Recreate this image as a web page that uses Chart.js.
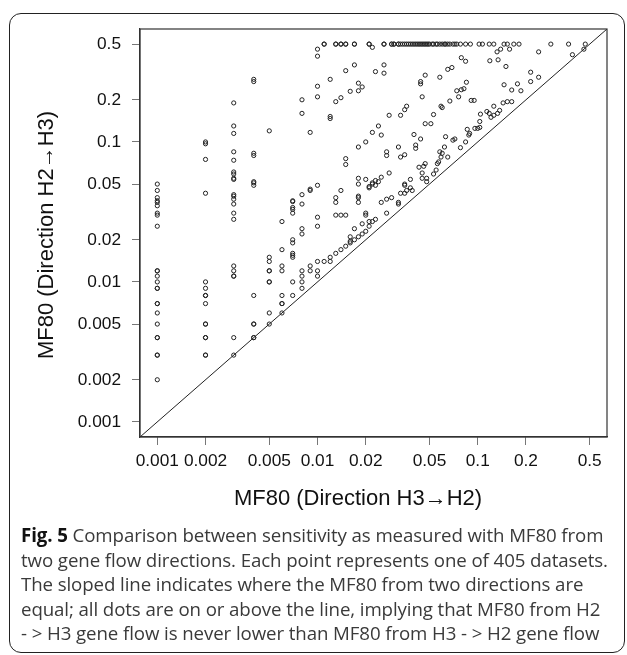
<!DOCTYPE html>
<html>
<head>
<meta charset="utf-8">
<script src="https://cdn.jsdelivr.net/npm/chart.js@4.4.1/dist/chart.umd.min.js"></script>
<style>
  html, body { margin: 0; padding: 0; background: #fff; }
  body { width: 627px; height: 655px; position: relative; overflow: hidden; }
  #frame {
    position: absolute; left: 9px; top: 13px; width: 614px; height: 638px;
    border: 1.5px solid #222; border-radius: 12px;
  }
  #chart { position: absolute; left: 0; top: 0; }
  #caption {
    position: absolute; left: 21px; top: 523px;
    font-family: "Open Sans", sans-serif; font-size: 18.7px; line-height: 24.5px;
    color: #3a3a3a; white-space: nowrap; letter-spacing: -0.1px;
  }
  #caption b { color: #111; }
</style>
</head>
<body>
<div id="frame"></div>
<canvas id="chart" width="627" height="525"></canvas>
<div id="caption">
  <b>Fig. 5</b> Comparison between sensitivity as measured with MF80 from<br>
  two gene flow directions. Each point represents one of 405 datasets.<br>
  The sloped line indicates where the MF80 from two directions are<br>
  equal; all dots are on or above the line, implying that MF80 from H2<br>
  - &gt; H3 gene flow is never lower than MF80 from H3 - &gt; H2 gene flow
</div>

<script>
    // MF80, direction H3->H2 (x) and H2->H3 (y)
    var dirH3toH2 = [
        0.001, 0.001, 0.001, 0.001, 0.001, 0.001, 0.001, 0.001, 0.001, 0.001, 0.001, 0.001,
        0.001, 0.001, 0.001, 0.001, 0.001, 0.001, 0.001, 0.001, 0.001, 0.001, 0.001, 0.001,
        0.002, 0.002, 0.002, 0.002, 0.002, 0.002, 0.002, 0.002, 0.002, 0.002, 0.002, 0.002,
        0.002, 0.002, 0.002,
        0.003, 0.003, 0.003, 0.003, 0.003, 0.003, 0.003, 0.003, 0.003, 0.003, 0.003, 0.003,
        0.003, 0.003, 0.003, 0.003, 0.003, 0.003, 0.003, 0.003, 0.003,
        0.004, 0.004, 0.004, 0.004, 0.004, 0.004, 0.004, 0.004, 0.004, 0.004, 0.004, 0.004,
        0.005, 0.005, 0.005, 0.005, 0.005, 0.005, 0.005, 0.005, 0.005,
        0.006, 0.006, 0.006, 0.006, 0.006, 0.006, 0.006, 0.006,
        0.007, 0.007, 0.007, 0.007, 0.007, 0.007, 0.007, 0.007, 0.007, 0.007, 0.007, 0.007,
        0.008, 0.008, 0.008, 0.008, 0.008, 0.008, 0.008, 0.008, 0.008, 0.008,
        0.009, 0.009, 0.009, 0.009, 0.009,
        0.01, 0.01, 0.01, 0.01, 0.01, 0.01, 0.01, 0.01, 0.01, 0.01,
        0.011, 0.011, 0.012, 0.012, 0.012, 0.012, 0.012,
        0.013, 0.013, 0.013, 0.013, 0.013, 0.013,
        0.014, 0.014, 0.014, 0.014, 0.014,
        0.015, 0.015, 0.015, 0.015, 0.015, 0.015,
        0.016, 0.016, 0.016, 0.016, 0.017, 0.017, 0.017, 0.017,
        0.018, 0.018, 0.018, 0.018, 0.018, 0.018, 0.018, 0.018, 0.018, 0.019, 0.019, 0.019,
        0.02, 0.02, 0.02, 0.02, 0.02, 0.021, 0.021, 0.021, 0.021, 0.021,
        0.022, 0.022, 0.022, 0.022, 0.022, 0.023, 0.023, 0.023, 0.023,
        0.024, 0.024, 0.025, 0.025, 0.025, 0.026, 0.026, 0.026,
        0.027, 0.027, 0.027, 0.027, 0.028, 0.028, 0.029, 0.029, 0.03,
        0.032, 0.032, 0.032, 0.032, 0.033, 0.033, 0.033,
        0.035, 0.035, 0.035, 0.035, 0.035, 0.036, 0.036, 0.038, 0.038, 0.039,
        0.04, 0.041, 0.041, 0.043, 0.044, 0.044, 0.044, 0.045, 0.045, 0.045, 0.046,
        0.047, 0.047, 0.047, 0.048, 0.048, 0.051, 0.053, 0.053, 0.055, 0.056, 0.057,
        0.058, 0.058, 0.059, 0.059, 0.06, 0.06, 0.062, 0.063, 0.065, 0.065, 0.067, 0.069,
        0.07, 0.072, 0.074, 0.076, 0.078, 0.079, 0.079, 0.082, 0.084, 0.084, 0.085,
        0.086, 0.088, 0.089, 0.091, 0.095, 0.096, 0.1, 0.103, 0.103, 0.104, 0.114,
        0.118, 0.119, 0.121, 0.126, 0.126, 0.132, 0.133, 0.134, 0.137, 0.139, 0.144,
        0.146, 0.15, 0.153, 0.158, 0.163, 0.163, 0.177, 0.186, 0.214, 0.214, 0.24, 0.24,
        0.39, 0.46,
        // top row
        0.011, 0.013, 0.014, 0.015, 0.017, 0.021, 0.026, 0.029, 0.03, 0.032, 0.033, 0.034,
        0.035, 0.036, 0.037, 0.038, 0.039, 0.04, 0.041, 0.042, 0.043, 0.044, 0.045, 0.046,
        0.047, 0.048, 0.049, 0.05, 0.052, 0.053, 0.055, 0.056, 0.058, 0.06, 0.062, 0.063,
        0.065, 0.067, 0.07, 0.072, 0.074, 0.078, 0.084, 0.09, 0.102, 0.107, 0.118, 0.126,
        0.146, 0.153, 0.168, 0.181, 0.286, 0.369, 0.469
    ];
    var dirH2toH3 = [
        0.05, 0.045, 0.04, 0.038, 0.037, 0.035, 0.031, 0.03, 0.025, 0.012, 0.012, 0.011,
        0.01, 0.009, 0.009, 0.007, 0.007, 0.006, 0.005, 0.004, 0.004, 0.003, 0.003, 0.002,
        0.1, 0.097, 0.075, 0.043, 0.01, 0.009, 0.008, 0.008, 0.007, 0.005, 0.005, 0.004,
        0.004, 0.003, 0.003,
        0.19, 0.13, 0.115, 0.085, 0.074, 0.061, 0.059, 0.055, 0.054, 0.042, 0.041, 0.039,
        0.036, 0.031, 0.028, 0.013, 0.012, 0.011, 0.011, 0.004, 0.003,
        0.28, 0.27, 0.083, 0.08, 0.052, 0.051, 0.049, 0.008, 0.005, 0.005, 0.004, 0.004,
        0.12, 0.015, 0.014, 0.012, 0.012, 0.01, 0.01, 0.006, 0.005,
        0.027, 0.017, 0.013, 0.012, 0.008, 0.007, 0.007, 0.006,
        0.038, 0.0375, 0.034, 0.033, 0.031, 0.02, 0.019, 0.016, 0.0155, 0.015, 0.01, 0.008,
        0.2, 0.16, 0.042, 0.036, 0.024, 0.022, 0.012, 0.011, 0.01, 0.009,
        0.117, 0.046, 0.045, 0.013, 0.012,
        0.46, 0.41, 0.25, 0.21, 0.049, 0.029, 0.025, 0.014, 0.012, 0.011,
        0.5, 0.014, 0.28, 0.152, 0.147, 0.015, 0.014,
        0.5, 0.194, 0.04, 0.037, 0.03, 0.016,
        0.5, 0.207, 0.045, 0.03, 0.017,
        0.5, 0.323, 0.076, 0.069, 0.03, 0.018,
        0.23, 0.021, 0.0195, 0.019, 0.5, 0.355, 0.02, 0.024,
        0.263, 0.232, 0.092, 0.055, 0.05, 0.041, 0.04, 0.037, 0.021, 0.247, 0.022, 0.026,
        0.1, 0.054, 0.031, 0.03, 0.023, 0.5, 0.048, 0.047, 0.025, 0.027,
        0.474, 0.117, 0.051, 0.05, 0.027, 0.318, 0.053, 0.049, 0.028,
        0.13, 0.052, 0.112, 0.056, 0.037, 0.5, 0.355, 0.31,
        0.085, 0.08, 0.039, 0.031, 0.155, 0.06, 0.5, 0.04, 0.5,
        0.5, 0.092, 0.037, 0.036, 0.155, 0.078, 0.043,
        0.081, 0.043, 0.05, 0.049, 0.17, 0.18, 0.045, 0.047, 0.054, 0.045,
        0.113, 0.095, 0.09, 0.066, 0.27, 0.26, 0.105, 0.21, 0.06, 0.055, 0.067,
        0.3, 0.135, 0.07, 0.055, 0.052, 0.135, 0.157, 0.059, 0.063, 0.07, 0.072,
        0.29, 0.085, 0.18, 0.078, 0.176, 0.083, 0.092, 0.109, 0.33, 0.078, 0.196, 0.34,
        0.103, 0.105, 0.232, 0.21, 0.091, 0.4, 0.236, 0.24, 0.377, 0.1, 0.267,
        0.123, 0.112, 0.115, 0.198, 0.198, 0.125, 0.125, 0.127, 0.14, 0.158, 0.165,
        0.16, 0.38, 0.15, 0.155, 0.18, 0.44, 0.16, 0.386, 0.168, 0.46, 0.19,
        0.256, 0.346, 0.194, 0.46, 0.235, 0.194, 0.26, 0.232, 0.315, 0.27, 0.44, 0.29,
        0.42, 0.46,
        0.5, 0.5, 0.5, 0.5, 0.5, 0.5, 0.5, 0.5, 0.5, 0.5, 0.5, 0.5,
        0.5, 0.5, 0.5, 0.5, 0.5, 0.5, 0.5, 0.5, 0.5, 0.5, 0.5, 0.5,
        0.5, 0.5, 0.5, 0.5, 0.5, 0.5, 0.5, 0.5, 0.5, 0.5, 0.5, 0.5,
        0.5, 0.5, 0.5, 0.5, 0.5, 0.5, 0.5, 0.5, 0.5, 0.5, 0.5, 0.5,
        0.5, 0.5, 0.5, 0.5, 0.5, 0.5, 0.5
    ];
    var tickValues = [0.001, 0.002, 0.005, 0.01, 0.02, 0.05, 0.1, 0.2, 0.5];
    // R-style 4% extension of the 0.001..0.5 range on a log scale
    var axisMin = 0.00078;
    var axisMax = 0.641;
    var xTitle = 'MF80 (Direction H3\u2192H2)';
    var yTitle = 'MF80 (Direction H2\u2192H3)';

    var points = dirH3toH2.map(function (x, i) {
        return {x: x, y: dirH2toH3[i]};
    });

    var frameBox = {
        id: 'frameBox',
        afterDraw: function (chart) {
            var a = chart.chartArea, ctx = chart.ctx;
            ctx.save();
            ctx.strokeStyle = '#333';
            ctx.lineWidth = 1.2;
            ctx.strokeRect(a.left, a.top, a.right - a.left, a.bottom - a.top);
            ctx.fillStyle = '#111';
            ctx.font = '22px "Liberation Sans", Arial, sans-serif';
            ctx.textAlign = 'center';
            ctx.textBaseline = 'middle';
            ctx.fillText(xTitle, 358, 499);
            ctx.translate(47, 235);
            ctx.rotate(-Math.PI / 2);
            ctx.fillText(yTitle, 0, 0);
            ctx.restore();
        }
    };

    function logAxis(isX) {
        return {
            type: 'logarithmic',
            min: axisMin,
            max: axisMax,
            afterBuildTicks: function (scale) {
                scale.ticks = tickValues.map(function (v) { return {value: v}; });
            },
            afterFit: function (scale) {
                if (isX) scale.height = 88; else scale.width = 140;
            },
            ticks: {
                autoSkip: false,
                maxRotation: 0,
                padding: isX ? 6 : 11,
                color: '#111',
                font: {family: '"Liberation Sans", Arial, sans-serif', size: 17.3},
                callback: function (v) { return String(v); }
            },
            grid: {drawOnChartArea: false, drawTicks: true, tickLength: 8, color: '#777', lineWidth: 1},
            border: {display: true, color: '#333', width: 1.2}
        };
    }

    var ctx = document.getElementById('chart').getContext('2d');
    var config = {
        type: 'scatter',
        data: {
            datasets: [{
                label: 'datasets',
                data: points,
                pointStyle: 'circle',
                pointRadius: 2.1,
                borderWidth: 1,
                borderColor: '#222',
                backgroundColor: 'rgba(0,0,0,0)'
            }, {
                type: 'line',
                label: 'equal',
                data: [{x: axisMin, y: axisMin}, {x: axisMax, y: axisMax}],
                borderColor: '#222',
                borderWidth: 1,
                pointRadius: 0,
                fill: false
            }]
        },
        options: {
            responsive: false,
            animation: false,
            layout: {padding: {left: 0, top: 29, right: 20, bottom: 0}},
            plugins: {legend: {display: false}, tooltip: {enabled: false}},
            scales: {x: logAxis(true), y: logAxis(false)}
        },
        plugins: [frameBox]
    };

    var chart = new Chart(ctx, config);
</script>
</body>
</html>
